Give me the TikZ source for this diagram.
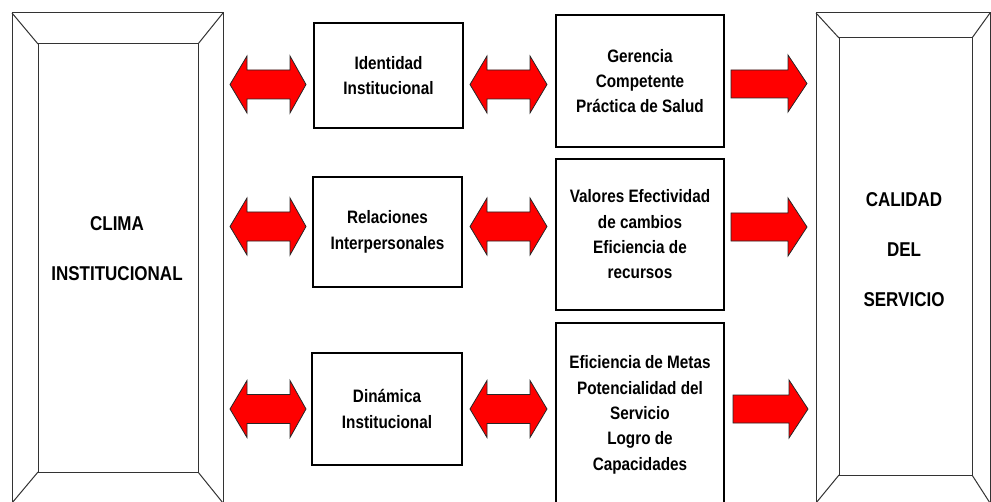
\documentclass[tikz,border=0pt]{standalone}
\usepackage{fontspec}
\setmainfont{Liberation Sans}[FakeStretch=0.85]

\tikzset{
  frame/.style={draw=black!80, line width=0.75pt},
  box/.style={draw, line width=1.7pt, align=center, inner sep=0pt,
    font=\fontsize{13.5}{19}\selectfont\bfseries},
  bigtext/.style={align=center, inner sep=0pt,
    font=\fontsize{15}{37.5}\selectfont\bfseries},
  redarrow/.style={draw=black!85, fill=red, line width=0.6pt, line join=miter}
}

\begin{document}
\begin{tikzpicture}[x=0.75pt,y=0.75pt,yscale=-1,xscale=1]
\useasboundingbox (0,0) rectangle (991,502);

%Shape: Frame left
\draw[frame] (12,13) rectangle (223,503);
\draw[frame] (38,44) rectangle (198,472);
\draw[frame] (12,13) -- (38,44) (223,13) -- (198,44) (12,503) -- (38,472) (223,503) -- (198,472);
%Shape: Frame right
\draw[frame] (816,13) rectangle (990,503);
\draw[frame] (839,38) rectangle (972,475);
\draw[frame] (816,13) -- (839,38) (990,13) -- (972,38) (816,503) -- (839,475) (990,503) -- (972,475);

% Text Node
\node[bigtext] (clima) at (117,248.5) {CLIMA\\INSTITUCIONAL};
% Text Node
\node[bigtext] (calidad) at (904,250) {CALIDAD\\DEL\\SERVICIO};

%Shape: Rectangle
\node[box, minimum width=111.75pt, minimum height=78.75pt] (ident) at (388.5,75.5) {Identidad\\Institucional};
%Shape: Rectangle
\node[box, minimum width=111.75pt, minimum height=82.5pt] (relac) at (387.5,232) {Relaciones\\Interpersonales};
%Shape: Rectangle
\node[box, minimum width=112.5pt, minimum height=84pt] (dinam) at (387,409) {Dinámica\\Institucional};
%Shape: Rectangle
\node[box, minimum width=126pt, minimum height=99pt] (geren) at (640,81) {Gerencia\\Competente\\Práctica de Salud};
%Shape: Rectangle
\node[box, minimum width=126pt, minimum height=113.25pt] (valor) at (640,234.5) {Valores Efectividad\\de cambios\\Eficiencia de\\recursos};
%Shape: Rectangle
\node[box, minimum width=126pt, minimum height=138pt] (efici) at (640,415) {Eficiencia de Metas\\Potencialidad del\\Servicio\\Logro de\\Capacidades};

%Shape: Left-Right Arrow
\draw[redarrow] (230,84.5) -- (247,56) -- (247,70) -- (290,70) -- (290,56) -- (306,84.5) -- (290,113) -- (290,99) -- (247,99) -- (247,113) -- cycle;
%Shape: Left-Right Arrow
\draw[redarrow] (470,84.5) -- (487,56) -- (487,70) -- (530,70) -- (530,56) -- (547,84.5) -- (530,113) -- (530,99) -- (487,99) -- (487,113) -- cycle;
%Shape: Left-Right Arrow
\draw[redarrow] (230,226.5) -- (247,198) -- (247,212) -- (290,212) -- (290,198) -- (306,226.5) -- (290,255) -- (290,241) -- (247,241) -- (247,255) -- cycle;
%Shape: Left-Right Arrow
\draw[redarrow] (470,226.5) -- (487,198) -- (487,212) -- (530,212) -- (530,198) -- (547,226.5) -- (530,255) -- (530,241) -- (487,241) -- (487,255) -- cycle;
%Shape: Left-Right Arrow
\draw[redarrow] (230,409) -- (247,380.5) -- (247,394.5) -- (290,394.5) -- (290,380.5) -- (306,409) -- (290,437.5) -- (290,423.5) -- (247,423.5) -- (247,437.5) -- cycle;
%Shape: Left-Right Arrow
\draw[redarrow] (470,409) -- (487,380.5) -- (487,394.5) -- (530,394.5) -- (530,380.5) -- (547,409) -- (530,437.5) -- (530,423.5) -- (487,423.5) -- (487,437.5) -- cycle;

%Shape: Right Arrow
\draw[redarrow] (731,70) -- (788,70) -- (788,55) -- (807,83.5) -- (788,112) -- (788,98) -- (731,98) -- cycle;
%Shape: Right Arrow
\draw[redarrow] (731,213) -- (788,213) -- (788,198) -- (807,227) -- (788,256) -- (788,241) -- (731,241) -- cycle;
%Shape: Right Arrow
\draw[redarrow] (733,395) -- (789,395) -- (789,380) -- (808,409) -- (789,438) -- (789,423) -- (733,423) -- cycle;

\end{tikzpicture}
\end{document}
